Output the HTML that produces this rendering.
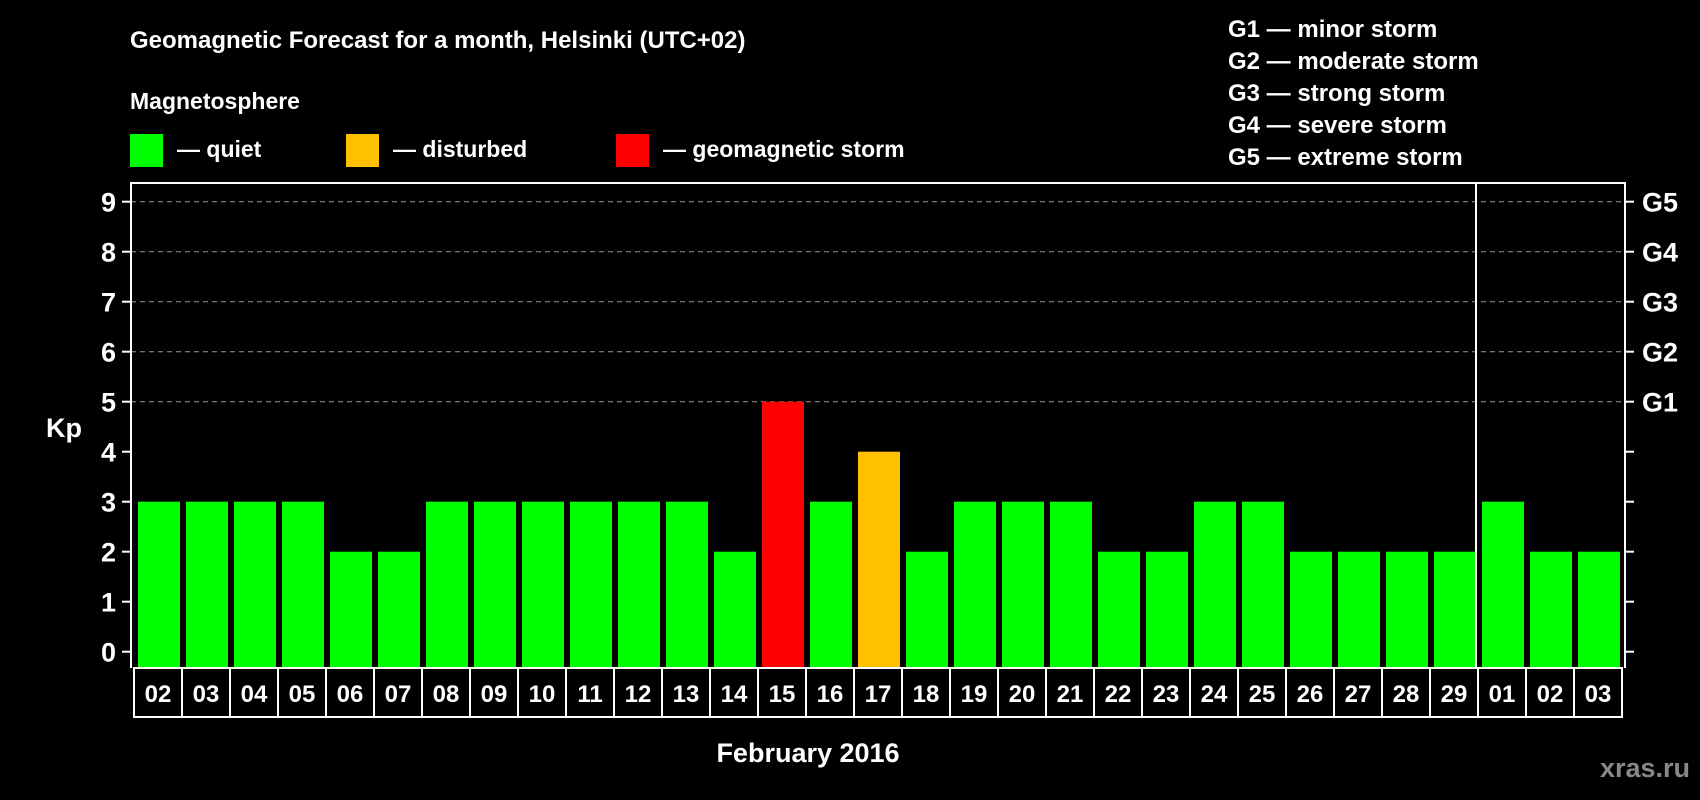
<!DOCTYPE html>
<html><head><meta charset="utf-8"><style>
html,body{margin:0;padding:0;background:#000;width:1700px;height:800px;overflow:hidden}
svg{display:block;font-family:"Liberation Sans",Arial,sans-serif;font-weight:bold}
</style></head><body>
<svg id="chart" width="1700" height="800" viewBox="0 0 1700 800">
<text x="130" y="48" fill="#fff" font-size="24">Geomagnetic Forecast for a month, Helsinki (UTC+02)</text>
<text x="130" y="109" fill="#fff" font-size="23">Magnetosphere</text>
<g><rect x="130" y="134" width="33" height="33" fill="#00ff00"/><text x="177" y="157" fill="#fff" font-size="23">— quiet</text></g>
<g><rect x="346" y="134" width="33" height="33" fill="#ffc000"/><text x="393" y="157" fill="#fff" font-size="23">— disturbed</text></g>
<g><rect x="616" y="134" width="33" height="33" fill="#ff0000"/><text x="663" y="157" fill="#fff" font-size="23">— geomagnetic storm</text></g>
<g fill="#fff" font-size="24">
<text x="1228" y="37">G1 — minor storm</text>
<text x="1228" y="69">G2 — moderate storm</text>
<text x="1228" y="101">G3 — strong storm</text>
<text x="1228" y="133">G4 — severe storm</text>
<text x="1228" y="165">G5 — extreme storm</text>
</g>
<text x="64" y="437" fill="#fff" font-size="27" text-anchor="middle">Kp</text>
<text x="808" y="762" fill="#fff" font-size="27" text-anchor="middle">February 2016</text>
<text x="1690" y="777" fill="#888" font-size="27" text-anchor="end">xras.ru</text>
<g id="plot"></g>
</svg>
<script>
const days = ["02","03","04","05","06","07","08","09","10","11","12","13","14","15","16","17","18","19","20","21","22","23","24","25","26","27","28","29","01","02","03"];
const kpValues = [3,3,3,3,2,2,3,3,3,3,3,3,2,5,3,4,2,3,3,3,2,2,3,3,2,2,2,2,3,2,2];
const yTicks = [0,1,2,3,4,5,6,7,8,9];
const gLabels = ["G1","G2","G3","G4","G5"];
const monthBreakIndex = 28;

const NS="http://www.w3.org/2000/svg";
const g=document.getElementById('plot');
const L=131,R=1625,T=183,B=668,X0=134,PITCH=48,BW=42;
const y=v=>651.7-v*50;
const xl=i=>X0+4+i*PITCH;
function mk(tag,a,parent){const e=document.createElementNS(NS,tag);for(const k in a)e.setAttribute(k,a[k]);(parent||g).appendChild(e);return e;}

yTicks.forEach(v=>{
  if(v>=5){const l=mk('line',{x1:L,x2:R,y1:y(v),y2:y(v),stroke:'#999','stroke-dasharray':'5,4','stroke-width':1});
  
  }
  const t=mk('line',{x1:122,x2:L,y1:y(v),y2:y(v),stroke:'#fff','stroke-width':2});
  
  
  const tl=mk('text',{x:116,y:y(v)+10,fill:'#fff','font-size':27,'text-anchor':'end'});tl.textContent=v;
  
  
  const rt=mk('line',{x1:R,x2:1634,y1:y(v),y2:y(v),stroke:'#fff','stroke-width':2});
  
  
  if(v>=5){const gl=mk('text',{x:1642,y:y(v)+10,fill:'#fff','font-size':27});gl.textContent=gLabels[v-5];
  
  }
});

kpValues.forEach((v,i)=>{
  const c=v>=5?'#ff0000':(v>=4?'#ffc000':'#00ff00');
  const r=mk('rect',{x:xl(i),y:y(v),width:BW,height:B-y(v),fill:c});
  
  
  const box=mk('rect',{x:X0+i*PITCH,y:B,width:PITCH,height:49,fill:'none',stroke:'#fff','stroke-width':2});
  
  
  const t=mk('text',{x:X0+i*PITCH+PITCH/2,y:B+34,fill:'#fff','font-size':24,'text-anchor':'middle'});t.textContent=days[i];
  
  
});

const sep=mk('line',{x1:X0+monthBreakIndex*PITCH-2,x2:X0+monthBreakIndex*PITCH-2,y1:T,y2:B,stroke:'#fff','stroke-width':2});


const frame=mk('polyline',{points:`${L},${B} ${L},${T} ${R},${T} ${R},${B}`,fill:'none',stroke:'#fff','stroke-width':2});


</script>
</body></html>
